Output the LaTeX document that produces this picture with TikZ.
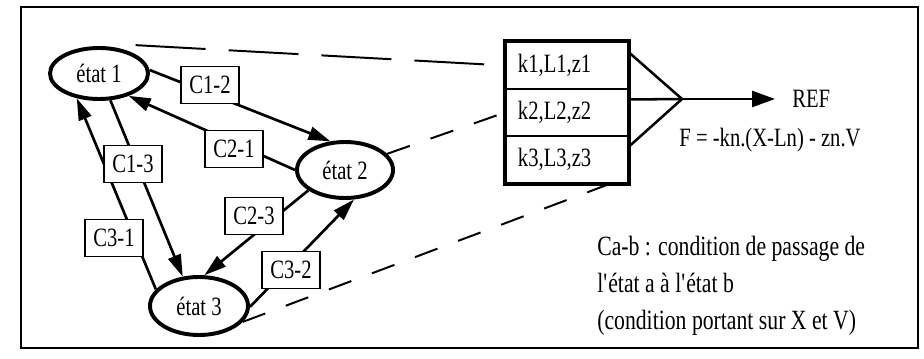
\documentclass[tikz,border=0pt]{standalone}
\usepackage{fontspec}
\setmainfont{Liberation Serif}[FakeStretch=0.78]
\usetikzlibrary{shapes.geometric,arrows.meta,calc}
\begin{document}
\begin{tikzpicture}[x=0.025cm, y=-0.025cm,
    every node/.style={font=\fontsize{18.8}{22}\selectfont},
    etat/.style={ellipse, draw, line width=2.8pt, inner sep=0pt},
    cond/.style={rectangle, draw, fill=white, line width=1.4pt, minimum width=1.45cm, minimum height=0.925cm, inner sep=0pt},
    cell/.style={rectangle, draw, line width=1.4pt, minimum height=1.175cm, text width=2.45cm, inner xsep=0.3cm, inner ysep=0pt, align=left},
    link/.style={line width=1.9pt, -{Triangle[length=0.55cm, width=0.33cm]}},
    guide/.style={line width=1.4pt, dash pattern=on 0.6cm off 0.55cm}]
   \useasboundingbox (0,0) rectangle (924,359);
   \draw[line width=1.5pt] (21,7) rectangle (918,348);

   % states
   \node[etat, minimum width=2.45cm, minimum height=1.275cm] (E1) at (99,73.5) {état 1};
   \node[etat, minimum width=2.4cm, minimum height=1.4cm] (E2) at (345,170) {état 2};
   \node[etat, minimum width=2.45cm, minimum height=1.45cm] (E3) at (199,306) {état 3};

   % transitions
   \draw[link] (E1.4) to (E2.117);
   \draw[link] (E2.180) to (E1.-37);
   \draw[link] (E1.-67) to (E3.119);
   \draw[link] (E3.159) to (E1.-132);
   \draw[link] (E2.209) to (E3.80);
   \draw[link] (E3.-1) to (E2.-73);

   \node[cond] (C12) at (210,85) {C1-2};
   \node[cond] (C21) at (234,149) {C2-1};
   \node[cond] (C13) at (133,164) {C1-3};
   \node[cond] (C31) at (114,238) {C3-1};
   \node[cond] (C23) at (254,216) {C2-3};
   \node[cond] (C32) at (291,270) {C3-2};

   % parameter table
   \node[cell] (R1) at (567,65.5) {k1,L1,z1};
   \node[cell] (R2) at (567,112.5) {k2,L2,z2};
   \node[cell] (R3) at (567,159.5) {k3,L3,z3};
   \draw[line width=2.8pt] (R1.north west) rectangle (R3.south east);

   \draw[guide, dash pattern=on 1.75cm off 0.575cm] ([shift={(7,-6)}]E1.37) to (R1.west);
   \draw[guide] (E2.21) to (R2.west);
   \draw[guide] (E3.-20) to (R3.-30);

   \coordinate (apex) at (682,99);
   \draw[line width=1.8pt] ($(R1.east)+(0,-13)$) to (apex);
   \draw[line width=1.8pt] ($(R2.east)+(0,-13)$) to (apex);
   \draw[line width=1.8pt] ($(R3.east)+(0,-13)$) to (apex);

   \node[anchor=west, inner xsep=0.425cm] (REF) at (775,99) {REF};
   \draw[line width=1.8pt, -{Triangle[length=0.575cm, width=0.4cm]}] (apex) to (REF.west);
   \node (F) at (770,140) {F = -kn.(X-Ln) - zn.V};

   \node[anchor=north west, align=left, inner sep=0pt, font=\fontsize{19.8}{26.3}\selectfont] (legend) at (597,236)
      {Ca-b : condition de passage de\\ l\textquotesingle état a à l\textquotesingle état b\\ (condition portant sur X et V)};
 \end{tikzpicture}
\end{document}
